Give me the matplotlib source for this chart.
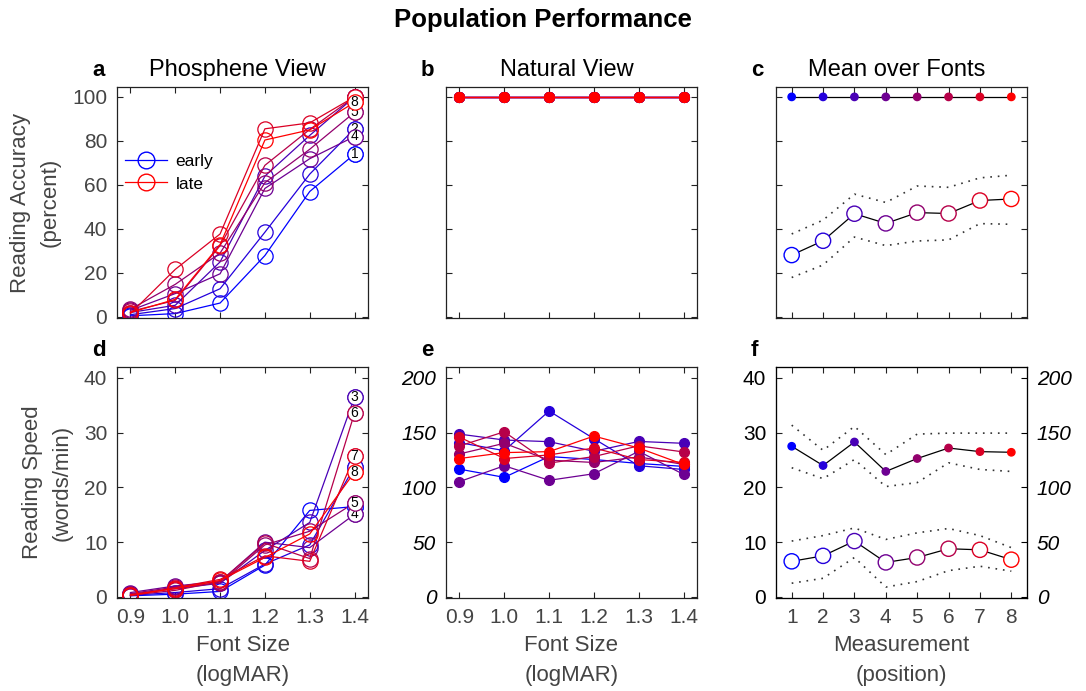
import numpy as np
import matplotlib.pyplot as plt

plt.rcParams['font.family'] = ['Liberation Sans', 'DejaVu Sans']

font_sizes = [0.9, 1.0, 1.1, 1.2, 1.3, 1.4]
font_size_labels = ['0.9', '1.0', '1.1', '1.2', '1.3', '1.4']
measurements = [1, 2, 3, 4, 5, 6, 7, 8]

# reading accuracy (percent), phosphene view, one row per measurement
acc_phos = [
    [0.5, 1.5, 6.3, 27.9, 57.0, 74.0],
    [1.0, 3.8, 12.8, 38.5, 64.9, 85.5],
    [2.0, 5.3, 25.0, 64.0, 82.5, 100.0],
    [3.0, 10.6, 19.6, 58.4, 71.9, 82.0],
    [3.5, 14.8, 29.0, 61.0, 76.2, 93.0],
    [2.5, 7.5, 32.4, 68.9, 85.2, 100.0],
    [1.5, 21.6, 37.7, 85.5, 88.2, 100.0],
    [2.0, 8.0, 32.9, 80.4, 85.0, 97.5],
]
acc_nat = [[100, 100, 100, 100, 100, 100] for _ in range(8)]

# reading speed (words/min)
speed_phos = [
    [0.2, 0.5, 1.0, 5.8, 15.8, 16.5],
    [0.3, 0.8, 1.5, 6.0, 9.5, 23.8],
    [0.5, 1.5, 2.5, 8.5, 13.6, 36.5],
    [0.8, 2.0, 2.8, 10.0, 9.0, 15.1],
    [0.6, 1.8, 2.5, 9.5, 12.0, 17.2],
    [0.3, 1.2, 2.8, 9.8, 7.0, 33.6],
    [0.2, 1.7, 3.2, 7.5, 6.5, 25.7],
    [0.4, 1.5, 3.0, 7.2, 11.5, 22.8],
]
speed_nat = [
    [116.7, 109.2, 128.2, 125.5, 121.9, 119.2],
    [140.9, 133.6, 169.8, 144.5, 119.8, 116.4],
    [148.7, 143.3, 141.8, 133.0, 142.0, 140.3],
    [105.3, 119.8, 106.5, 112.5, 133.0, 111.9],
    [130.6, 140.3, 124.9, 122.8, 127.9, 121.0],
    [137.9, 150.8, 122.2, 128.2, 138.0, 132.4],
    [146.0, 126.4, 129.7, 136.0, 125.5, 122.8],
    [126.4, 131.8, 132.7, 146.9, 136.0, 121.0],
]

# means over fonts, per measurement
mean_acc_nat = [100, 100, 100, 100, 100, 100, 100, 100]
mean_acc_phos = [28.1, 34.6, 46.9, 42.5, 47.4, 47.0, 52.9, 53.6]
mean_acc_phos_hi = [37.7, 44.0, 55.8, 52.0, 59.5, 58.9, 63.2, 64.4]
mean_acc_phos_lo = [17.9, 23.6, 36.3, 32.4, 34.5, 35.0, 42.4, 42.1]
mean_speed_phos = [6.5, 7.5, 10.2, 6.3, 7.2, 8.8, 8.6, 6.8]
mean_speed_phos_hi = [10.2, 11.2, 12.6, 10.5, 11.7, 12.5, 11.2, 9.0]
mean_speed_phos_lo = [2.5, 3.4, 7.2, 1.8, 2.8, 4.8, 5.6, 4.7]
mean_speed_nat = [137.6, 120.0, 141.5, 114.6, 126.4, 136.0, 132.7, 132.1]
mean_speed_nat_hi = [156.9, 133.9, 155.7, 130.0, 148.7, 149.6, 149.6, 149.6]
mean_speed_nat_lo = [118.0, 108.0, 125.5, 100.8, 104.4, 122.5, 116.4, 114.6]

acc_labels = ['1', '2', '3', '4', '5', '6', '7', '8']

GRAY = '#444444'
DOT = (0, (1, 3.5))
cols = [(i / 7.0, 0.0, 1.0 - i / 7.0) for i in range(8)]

fig = plt.figure(figsize=(10.86, 6.91), dpi=100)
W, H = 1086.0, 691.0
lefts = [117, 446, 776]
tops = [87, 367]
aw, ah = 251, 231
axes = {}
for r, top in enumerate(tops):
    for c, left in enumerate(lefts):
        axes[(r, c)] = fig.add_axes([left / W, (H - top - ah) / H, aw / W, ah / H])


def style(ax, tickcol=GRAY):
    ax.tick_params(direction='in', length=4, width=0.8, top=True, right=True,
                   labelsize=15, colors='#222222', labelcolor=tickcol, pad=7)
    for s in ax.spines.values():
        s.set_linewidth(0.9)
        s.set_color('#222222')


def font_axis(ax, bottom):
    ax.set_xlim(0.87, 1.43)
    ax.set_xticks(font_sizes)
    if bottom:
        ax.set_xticklabels(font_size_labels)
        ax.set_xlabel('Font Size\n(logMAR)', fontsize=16, color=GRAY, labelpad=6, linespacing=1.55)
    else:
        ax.set_xticklabels([])


def end_labels(ax, data, which):
    # numbered circles at the last font size; later ones cover earlier ones
    for i in range(8):
        z = 10 + 2 * i
        ax.plot(font_sizes[-1], data[i][-1], 'o', color=cols[i], mfc='white', ms=11, mew=0.9,
                zorder=z, clip_on=False)
        if i in which:
            ax.text(font_sizes[-1], data[i][-1], acc_labels[i], fontsize=10, ha='center',
                    va='center', zorder=z + 1)


# a: phosphene accuracy
ax = axes[(0, 0)]
for i in range(8):
    ax.plot(font_sizes, acc_phos[i], '-o', color=cols[i], mfc='none', ms=11, lw=0.9, mew=0.9)
end_labels(ax, acc_phos, [0, 1, 3, 4, 7])
ax.plot([], [], '-o', color=cols[0], mfc='none', ms=12, lw=0.9, label='early')
ax.plot([], [], '-o', color=cols[7], mfc='none', ms=12, lw=0.9, label='late')
ax.legend(loc='upper left', bbox_to_anchor=(-0.03, 0.78), frameon=False, fontsize=12.5,
          handlelength=2.4, handletextpad=0.5, labelspacing=0.45)
ax.set_ylim(-0.5, 104.5)
ax.set_yticks([0, 20, 40, 60, 80, 100])
ax.set_ylabel('Reading Accuracy\n(percent)', fontsize=16, color=GRAY, labelpad=8, linespacing=1.55)
font_axis(ax, False)
style(ax)

# b: natural accuracy
ax = axes[(0, 1)]
for i in range(8):
    ax.plot(font_sizes, acc_nat[i], '-o', color=cols[i], ms=7, lw=0.9)
ax.set_ylim(-0.5, 104.5)
ax.set_yticks([0, 20, 40, 60, 80, 100])
ax.set_yticklabels([])
font_axis(ax, False)
style(ax)

# c: mean accuracy
ax = axes[(0, 2)]
ax.plot(measurements, mean_acc_nat, '-', color='black', lw=0.9)
ax.scatter(measurements, mean_acc_nat, c=cols, s=28, zorder=3)
ax.plot(measurements, mean_acc_phos_hi, linestyle=DOT, color='#333333', lw=1.2)
ax.plot(measurements, mean_acc_phos_lo, linestyle=DOT, color='#333333', lw=1.2)
ax.plot(measurements, mean_acc_phos, '-', color='black', lw=0.9)
ax.scatter(measurements, mean_acc_phos, s=120, facecolors='white', edgecolors=cols, linewidths=1.0, zorder=3)
ax.set_xlim(0.5, 8.5)
ax.set_xticks(measurements)
ax.set_xticklabels([])
ax.set_ylim(-0.5, 104.5)
ax.set_yticks([0, 20, 40, 60, 80, 100])
ax.set_yticklabels([])
style(ax)

# d: phosphene speed
ax = axes[(1, 0)]
for i in range(8):
    ax.plot(font_sizes, speed_phos[i], '-o', color=cols[i], mfc='none', ms=11, lw=0.9, mew=0.9)
end_labels(ax, speed_phos, [2, 3, 4, 5, 6, 7])
ax.set_ylim(-0.2, 42)
ax.set_yticks([0, 10, 20, 30, 40])
ax.set_ylabel('Reading Speed\n(words/min)', fontsize=16, color=GRAY, labelpad=8, linespacing=1.55)
font_axis(ax, True)
style(ax)

# e: natural speed
ax = axes[(1, 1)]
for i in range(8):
    ax.plot(font_sizes, speed_nat[i], '-o', color=cols[i], ms=7, lw=0.9)
ax.set_ylim(-1, 210)
ax.set_yticks([0, 50, 100, 150, 200])
font_axis(ax, True)
style(ax)
for t in ax.get_yticklabels():
    t.set_fontstyle('italic')
    t.set_color('black')

# f: mean speed
ax = axes[(1, 2)]
ax2 = ax.twinx()
ax.plot(measurements, mean_speed_phos_hi, linestyle=DOT, color='#333333', lw=1.2)
ax.plot(measurements, mean_speed_phos_lo, linestyle=DOT, color='#333333', lw=1.2)
ax.plot(measurements, mean_speed_phos, '-', color='black', lw=0.9)
ax.scatter(measurements, mean_speed_phos, s=120, facecolors='white', edgecolors=cols, linewidths=1.0, zorder=3)
ax2.plot(measurements, mean_speed_nat_hi, linestyle=DOT, color='#333333', lw=1.2)
ax2.plot(measurements, mean_speed_nat_lo, linestyle=DOT, color='#333333', lw=1.2)
ax2.plot(measurements, mean_speed_nat, '-', color='black', lw=0.9)
ax2.scatter(measurements, mean_speed_nat, c=cols, s=28, zorder=3)
ax.set_xlim(0.5, 8.5)
ax.set_xticks(measurements)
ax.set_ylim(-0.2, 42)
ax.set_yticks([0, 10, 20, 30, 40])
ax2.set_ylim(-1, 210)
ax2.set_yticks([0, 50, 100, 150, 200])
ax.set_xlabel('Measurement\n(position)', fontsize=16, color=GRAY, labelpad=6, linespacing=1.55)
style(ax)
ax.tick_params(axis='y', labelcolor='black', right=False)
ax.tick_params(axis='x', labelcolor=GRAY)
ax2.tick_params(direction='in', length=4, width=0.8, labelsize=15, labelcolor='black', pad=7)
for t in ax2.get_yticklabels():
    t.set_fontstyle('italic')

# panel titles
titles = [('a', 'Phosphene View'), ('b', 'Natural View'), ('c', 'Mean over Fonts')]
for (letter, name), left in zip(titles, lefts):
    fig.text((left - 25) / W, 1 - 70 / H, letter, fontsize=16, fontweight='bold', ha='left', va='center')
    fig.text((left + aw / 2 - 5) / W, 1 - 70 / H, name, fontsize=17, ha='center', va='center')
for letter, left in zip(['d', 'e', 'f'], lefts):
    fig.text((left - 25) / W, 1 - 350 / H, letter, fontsize=16, fontweight='bold', ha='left', va='center')

fig.text(0.5, 1 - 20 / H, 'Population Performance', fontsize=18.5, fontweight='bold', ha='center', va='center')

fig.savefig('out.png', dpi=100)
